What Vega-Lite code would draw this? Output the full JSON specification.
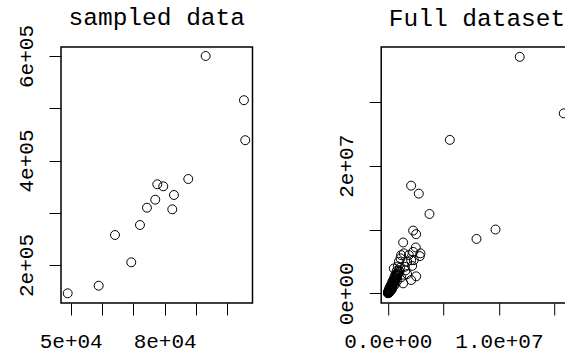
{
  "$schema": "https://vega.github.io/schema/vega-lite/v6.json",
  "autosize": {"type": "none"},
  "padding": {"left": 61, "top": 47, "right": 504, "bottom": 306},
  "background": "white",
  "datasets": {
    "sampled": [
      {"x": 49040, "y": 145840}, {"x": 58937, "y": 160380}, {"x": 64140, "y": 257400},
      {"x": 69340, "y": 205170}, {"x": 72120, "y": 276560}, {"x": 74350, "y": 309660},
      {"x": 77000, "y": 324980}, {"x": 77640, "y": 354450}, {"x": 79560, "y": 350620},
      {"x": 82430, "y": 306600}, {"x": 82970, "y": 333970}, {"x": 87540, "y": 364590},
      {"x": 93090, "y": 600000}, {"x": 105310, "y": 515400}, {"x": 105730, "y": 438850}
    ],
    "full": [
      {"x": 11870000, "y": 37080000}, {"x": 15830000, "y": 28220000}, {"x": 5580000, "y": 24060000},
      {"x": 2100000, "y": 16880000}, {"x": 2790000, "y": 15630000}, {"x": 3750000, "y": 12440000},
      {"x": 2280000, "y": 9840000}, {"x": 2550000, "y": 9270000}, {"x": 7980000, "y": 8530000},
      {"x": 9690000, "y": 10000000}, {"x": 1380000, "y": 7970000}, {"x": 2520000, "y": 7190000},
      {"x": 2880000, "y": 5830000}, {"x": 1200000, "y": 5980000}, {"x": 2100000, "y": 5200000},
      {"x": 1140000, "y": 5490000}, {"x": 1440000, "y": 6270000}, {"x": 1890000, "y": 6000000},
      {"x": 2280000, "y": 6500000}, {"x": 2940000, "y": 6270000}, {"x": 2340000, "y": 5200000},
      {"x": 1740000, "y": 4960000}, {"x": 990000, "y": 4940000}, {"x": 540000, "y": 3900000},
      {"x": 1530000, "y": 4160000}, {"x": 2190000, "y": 4300000}, {"x": 2550000, "y": 2660000},
      {"x": 2100000, "y": 2080000}, {"x": 1380000, "y": 1560000}, {"x": 1740000, "y": 3020000},
      {"x": 1200000, "y": 2500000}, {"x": 1600000, "y": 3600000},
      {"x": 20000, "y": 50000}, {"x": 40000, "y": 120000}, {"x": 60000, "y": 80000},
      {"x": 80000, "y": 250000}, {"x": 100000, "y": 180000}, {"x": 120000, "y": 400000},
      {"x": 150000, "y": 300000}, {"x": 170000, "y": 550000}, {"x": 200000, "y": 450000},
      {"x": 220000, "y": 700000}, {"x": 250000, "y": 600000}, {"x": 280000, "y": 900000},
      {"x": 300000, "y": 750000}, {"x": 330000, "y": 1100000}, {"x": 350000, "y": 950000},
      {"x": 380000, "y": 1300000}, {"x": 400000, "y": 1150000}, {"x": 430000, "y": 1500000},
      {"x": 450000, "y": 1350000}, {"x": 480000, "y": 1700000}, {"x": 500000, "y": 1550000},
      {"x": 530000, "y": 1900000}, {"x": 560000, "y": 1750000}, {"x": 600000, "y": 2100000},
      {"x": 620000, "y": 1900000}, {"x": 650000, "y": 2400000}, {"x": 700000, "y": 2200000},
      {"x": 730000, "y": 2700000}, {"x": 780000, "y": 2500000}, {"x": 820000, "y": 3000000},
      {"x": 870000, "y": 2800000}, {"x": 900000, "y": 3300000}, {"x": 950000, "y": 3100000},
      {"x": 1000000, "y": 3600000}, {"x": 1050000, "y": 3400000}, {"x": 1100000, "y": 4000000},
      {"x": 10000, "y": 10000}, {"x": 30000, "y": 200000}, {"x": 50000, "y": 300000},
      {"x": 90000, "y": 50000}, {"x": 130000, "y": 150000}, {"x": 180000, "y": 250000},
      {"x": 240000, "y": 380000}, {"x": 300000, "y": 500000}, {"x": 70000, "y": 400000},
      {"x": 110000, "y": 650000}, {"x": 160000, "y": 850000}, {"x": 210000, "y": 1000000},
      {"x": 260000, "y": 1200000}, {"x": 320000, "y": 1400000}, {"x": 400000, "y": 1800000},
      {"x": 500000, "y": 2100000}, {"x": 600000, "y": 2600000}, {"x": 700000, "y": 3000000},
      {"x": 800000, "y": 3500000}, {"x": 900000, "y": 4200000}, {"x": 400000, "y": 700000},
      {"x": 550000, "y": 1200000}, {"x": 700000, "y": 1500000}, {"x": 850000, "y": 2000000}
    ]
  },
  "config": {
    "font": "Liberation Mono",
    "axis": {
      "grid": false, "title": null,
      "domain": false,
      "tickColor": "black", "tickWidth": 1, "tickSize": 12,
      "labelFont": "Liberation Mono", "labelFontSize": 21, "labelColor": "black",
      "labelFlush": false, "labelOverlap": false
    },
    "axisX": {"labelBaseline": "alphabetic", "labelPadding": 32.5, "labelAngle": 0, "labelAlign": "center"},
    "axisY": {"labelAngle": -90, "labelAlign": "center", "labelBaseline": "alphabetic", "labelPadding": 17},
    "title": {"font": "Liberation Mono", "fontSize": 24.5, "fontWeight": "normal", "color": "black", "anchor": "middle", "frame": "group", "baseline": "alphabetic"},
    "point": {"shape": "circle", "filled": false, "stroke": "black", "strokeWidth": 1, "size": 80, "opacity": 1}
  },
  "spacing": 128.2,
  "bounds": "flush",
  "hconcat": [
    {
      "title": {"text": "sampled data", "offset": -6},
      "width": 191.5,
      "height": 256,
      "view": {"stroke": "black", "strokeWidth": 1.5, "fill": "white"},
      "data": {"name": "sampled"},
      "mark": {"type": "point", "clip": true},
      "encoding": {
        "x": {"field": "x", "type": "quantitative",
          "scale": {"domain": [46903, 108046], "nice": false, "zero": false},
          "axis": {"values": [50000, 60000, 70000, 80000, 90000, 100000],
            "labelExpr": "datum.value == 50000 ? '5e+04' : (datum.value == 80000 ? '8e+04' : '')"}},
        "y": {"field": "y", "type": "quantitative",
          "scale": {"domain": [127273, 617225], "nice": false, "zero": false},
          "axis": {"values": [200000, 300000, 400000, 500000, 600000],
            "labelExpr": "datum.value == 200000 ? '2e+05' : (datum.value == 400000 ? '4e+05' : (datum.value == 600000 ? '6e+05' : ''))"}}
      }
    },
    {
      "title": {"text": "Full dataset", "offset": 15.5},
      "width": 191.6,
      "height": 256,
      "view": {"stroke": "black", "strokeWidth": 1.5, "fill": "white"},
      "data": {"name": "full"},
      "mark": {"type": "point", "clip": true},
      "encoding": {
        "x": {"field": "x", "type": "quantitative",
          "scale": {"domain": [-593850, 16645000], "nice": false, "zero": false},
          "axis": {"values": [0, 5000000, 10000000, 15000000],
            "labelExpr": "datum.value == 0 ? '0.0e+00' : (datum.value == 10000000 ? '1.0e+07' : '')"}},
        "y": {"field": "y", "type": "quantitative",
          "scale": {"domain": [-1521000, 38625000], "nice": false, "zero": false},
          "axis": {"values": [0, 10000000, 20000000, 30000000],
            "labelExpr": "datum.value == 0 ? '0e+00' : (datum.value == 20000000 ? '2e+07' : '')"}}
      }
    }
  ]
}
